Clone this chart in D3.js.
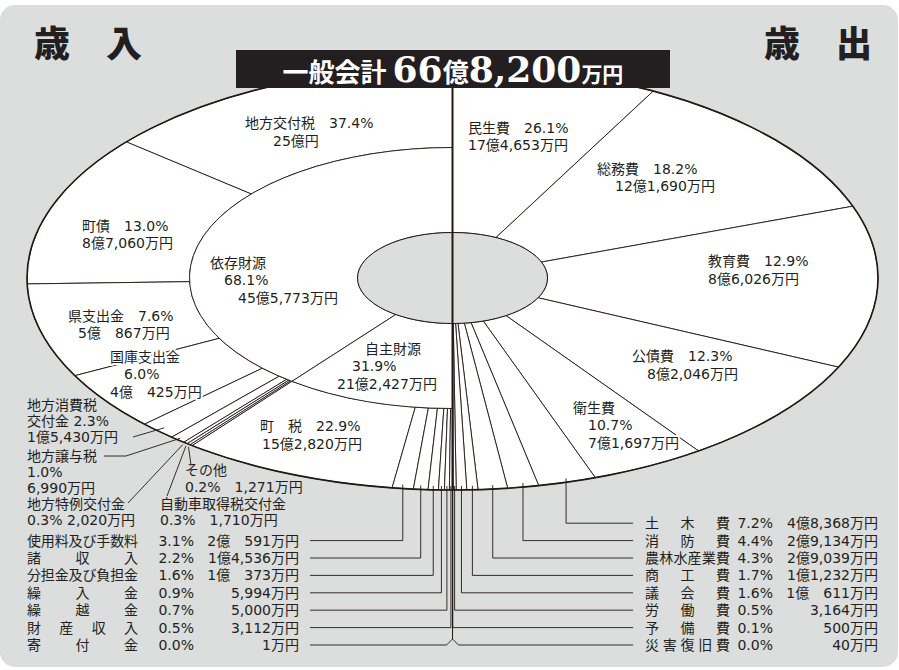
<!DOCTYPE html>
<html>
<head>
<meta charset="utf-8">
<script src="https://cdn.jsdelivr.net/npm/d3@7"></script>
<style>
  html, body { margin: 0; padding: 0; background: #fff; }
  svg text { font-family: "DejaVu Sans", "Noto Sans CJK JP", sans-serif; fill: #231f20; }
  .halo { paint-order: stroke; stroke: #fff; stroke-width: 4px; stroke-linejoin: round; }
</style>
</head>
<body>
<div id="chart"></div>
<script>
// 歳入 (万円)
const revNames = ["地方交付税", "町債", "県支出金", "国庫支出金", "地方消費税交付金", "地方譲与税",
  "地方特例交付金", "自動車取得税交付金", "その他", "町税", "使用料及び手数料", "諸収入",
  "分担金及び負担金", "繰入金", "繰越金", "財産収入", "寄付金"];
const revAmounts = [250000, 87060, 50867, 40425, 15430, 6990, 2020, 1710, 1271,
  152820, 20591, 14536, 10373, 5994, 5000, 3112, 1];
const revPcts = ["37.4", "13.0", "7.6", "6.0", "2.3", "1.0", "0.3", "0.3", "0.2",
  "22.9", "3.1", "2.2", "1.6", "0.9", "0.7", "0.5", "0.0"];
const revGroups = ["依存財源", "自主財源"];
const revGroupSizes = [9, 8];
const revGroupPcts = ["68.1", "31.9"];

// 歳出 (万円)
const expNames = ["民生費", "総務費", "教育費", "公債費", "衛生費", "土木費", "消防費",
  "農林水産業費", "商工費", "議会費", "労働費", "予備費", "災害復旧費"];
const expAmounts = [174653, 121690, 86026, 82046, 71697, 48368, 29134, 29039, 11232, 10611, 3164, 500, 40];
const expPcts = ["26.1", "18.2", "12.9", "12.3", "10.7", "7.2", "4.4", "4.3", "1.7", "1.6", "0.5", "0.1", "0.0"];

const W = 899, H = 670;
const cx = 452.5, cy = 278;
const outer = {rx: 425.5, ry: 212};
const ring = {rx: 263, ry: 130.5};
const hub = {rx: 95, ry: 45.5};
const ink = "#231815";
const fs = 14;

const fmt = d3.format(",");
function yen(v) {
  const oku = Math.floor(v / 10000), man = v % 10000;
  if (!oku) return fmt(man) + "万円";
  if (!man) return oku + "億円";
  return oku + "億" + (man < 1000 ? "\u3000" : "") + fmt(man) + "万円";
}

// screen angle a (0 = up), side -1 = left, +1 = right
function rAt(a, e) {
  const s = Math.sin(a), c = Math.cos(a);
  return 1 / Math.sqrt((s / e.rx) ** 2 + (c / e.ry) ** 2);
}
function pt(a, e, side, dr = 0) {
  const r = rAt(a, e) + dr;
  return [cx + side * r * Math.sin(a), cy - r * Math.cos(a)];
}
function band(a0, a1, e0, e1, side) {
  const sw = side > 0 ? 1 : 0;
  const p0 = pt(a0, e0, side), p1 = pt(a0, e1, side), p2 = pt(a1, e1, side), p3 = pt(a1, e0, side);
  return `M${p0}L${p1}A${e1.rx},${e1.ry} 0 0 ${sw} ${p2}L${p3}A${e0.rx},${e0.ry} 0 0 ${1 - sw} ${p0}Z`;
}

const pie = d3.pie().sort(null).startAngle(0).endAngle(Math.PI);
const revArcs = pie(revAmounts);
const expArcs = pie(expAmounts);
const groupSums = [d3.sum(revAmounts.slice(0, revGroupSizes[0])), d3.sum(revAmounts.slice(revGroupSizes[0]))];
const groupArcs = pie(groupSums);
const mid = d => (d.startAngle + d.endAngle) / 2;

const svg = d3.select("#chart").append("svg").attr("width", W).attr("height", H);

// 背景
svg.append("rect").attr("x", 0).attr("y", 5).attr("width", 898).attr("height", 662)
  .attr("rx", 15).attr("fill", "#dcdddd");

svg.append("ellipse").attr("cx", cx).attr("cy", cy).attr("rx", outer.rx).attr("ry", outer.ry)
  .attr("fill", "#fff");

const slices = svg.append("g").attr("fill", "#fff").attr("stroke", ink).attr("stroke-width", 0.9);
slices.selectAll(".rev").data(revArcs).join("path").attr("class", "rev")
  .attr("d", d => band(d.startAngle, d.endAngle, ring, outer, -1));
slices.selectAll(".grp").data(groupArcs).join("path").attr("class", "grp")
  .attr("d", d => band(d.startAngle, d.endAngle, hub, ring, -1));
slices.selectAll(".exp").data(expArcs).join("path").attr("class", "exp")
  .attr("d", d => band(d.startAngle, d.endAngle, hub, outer, 1));

svg.append("ellipse").attr("cx", cx).attr("cy", cy).attr("rx", outer.rx).attr("ry", outer.ry)
  .attr("fill", "none").attr("stroke", ink).attr("stroke-width", 1.6);
svg.append("ellipse").attr("cx", cx).attr("cy", cy).attr("rx", hub.rx).attr("ry", hub.ry)
  .attr("fill", "#dcdddd").attr("stroke", ink).attr("stroke-width", 1);
svg.append("line").attr("x1", cx).attr("x2", cx).attr("y1", 88).attr("y2", cy + outer.ry)
  .attr("stroke", ink).attr("stroke-width", 2);

// 見出し
svg.append("text").attr("x", 34).attr("y", 57).attr("font-size", 36).attr("font-weight", 900)
  .style("font-family", "'Noto Sans CJK JP'").text("歳\u3000入");
svg.append("text").attr("x", 764).attr("y", 57).attr("font-size", 36).attr("font-weight", 900)
  .style("font-family", "'Noto Sans CJK JP'").text("歳\u3000出");

const total = d3.sum(revAmounts);
svg.append("rect").attr("x", 236).attr("y", 50).attr("width", 434).attr("height", 38).attr("fill", "#231f20");
const tt = svg.append("text").attr("x", 453).attr("y", 82).attr("text-anchor", "middle")
  .attr("font-weight", 700).style("fill", "#fff");
const serif = "'DejaVu Serif', serif", jp = "'Noto Sans CJK JP'";
[["一般会計 ", 26, jp], [String(Math.floor(total / 10000)), 36, serif], ["億", 26, jp],
 [fmt(total % 10000), 36, serif], ["万円", 21, jp]].forEach(([t, s, f]) => {
  tt.append("tspan").attr("font-size", s).style("font-family", f).style("fill", "#fff").text(t);
});

// ラベル
const revItem = i => ({name: revNames[i], pct: revPcts[i] + "%", amt: yen(revAmounts[i])});
const expItem = i => ({name: expNames[i], pct: expPcts[i] + "%", amt: yen(expAmounts[i])});
const grpItem = i => ({name: revGroups[i], pct: revGroupPcts[i] + "%", amt: yen(groupSums[i])});
const spaced = s => Array.from(s).join("\u3000");

const innerLabels = [
  {d: revItem(0), x: 245, y: 128, lines: d => [[0, 0, d.name + "\u3000" + d.pct], [28, 18, d.amt]]},
  {d: revItem(1), x: 82, y: 231, lines: d => [[0, 0, d.name + "\u3000" + d.pct], [0, 17, d.amt]]},
  {d: revItem(2), x: 68, y: 321, lines: d => [[0, 0, d.name + "\u3000" + d.pct], [10, 17, d.amt]]},
  {d: revItem(3), x: 110, y: 362, lines: d => [[0, 0, d.name], [14, 17, d.pct], [0, 35, d.amt]]},
  {d: revItem(9), x: 260, y: 431, lines: d => [[0, 0, spaced(d.name) + "\u3000" + d.pct], [2, 18, d.amt]]},
  {d: grpItem(0), x: 210, y: 268, lines: d => [[0, 0, d.name], [14, 17, d.pct], [28, 35, d.amt]]},
  {d: grpItem(1), x: 337, y: 354, lines: d => [[28, 0, d.name], [15, 17, d.pct], [0, 35, d.amt]]},
  {d: expItem(0), x: 468, y: 133, lines: d => [[0, 0, d.name + "\u3000" + d.pct], [0, 17, d.amt]]},
  {d: expItem(1), x: 597, y: 174, lines: d => [[0, 0, d.name + "\u3000" + d.pct], [18, 17, d.amt]]},
  {d: expItem(2), x: 708, y: 266, lines: d => [[0, 0, d.name + "\u3000" + d.pct], [0, 18, d.amt]]},
  {d: expItem(3), x: 632, y: 361, lines: d => [[0, 0, d.name + "\u3000" + d.pct], [15, 18, d.amt]]},
  {d: expItem(4), x: 573, y: 413, lines: d => [[0, 0, d.name], [15, 17, d.pct], [15, 35, d.amt]]}
];
const lab = svg.append("g").attr("font-size", fs);
innerLabels.forEach(L => {
  L.lines(L.d).forEach(([dx, dy, t]) => {
    lab.append("text").attr("class", "halo").attr("x", L.x + dx).attr("y", L.y + dy).text(t);
  });
});

// 外側の小項目 (引出線つき)
const lead = svg.append("g").attr("fill", "none").attr("stroke", ink).attr("stroke-width", 0.9);
const outerLabels = [
  {i: 4, x: 27, y: 410, lines: d => [[0, 0, "地方消費税"], [0, 16, "交付金 " + d.pct], [0, 32, d.amt]],
   from: [[133, 437]], dr: -7},
  {i: 5, x: 27, y: 461, lines: d => [[0, 0, d.name], [0, 16, d.pct], [0, 32, d.amt]],
   from: [[104, 456], [126, 456]], dr: -3},
  {i: 6, x: 27, y: 509, lines: d => [[0, 0, d.name], [0, 16, d.pct + " " + d.amt]],
   from: [[128, 503]], dr: 3},
  {i: 7, x: 160, y: 509, lines: d => [[0, 0, d.name], [0, 16, d.pct + "\u3000" + d.amt]],
   from: [[167, 496]], dr: 3},
  {i: 8, x: 185, y: 475, lines: d => [[0, 0, d.name], [0, 17, d.pct + "\u3000" + d.amt]],
   from: [[191, 465]], dr: 3}
];
outerLabels.forEach(L => {
  L.lines(revItem(L.i)).forEach(([dx, dy, t]) => {
    lab.append("text").attr("x", L.x + dx).attr("y", L.y + dy).text(t);
  });
  const end = pt(mid(revArcs[L.i]), outer, -1, L.dr);
  lead.append("path").attr("d", d3.line()([...L.from, end]));
});

// 下部の一覧
function justify(g, str, x0, w, y) {
  const ch = Array.from(str);
  const step = ch.length > 1 ? (w - fs) / (ch.length - 1) : 0;
  const t = g.append("text").attr("y", y);
  ch.forEach((c, k) => t.append("tspan").attr("x", x0 + k * step).text(c));
}
const rowStep = 17.4, lastRow = 645;

function bottomList(arcs, idx, names, pcts, amounts, side, cfg) {
  const n = idx.length;
  // leader x from slice middles, kept apart near the centre
  const xs = idx.map(i => pt(mid(arcs[i]), outer, side)[0]);
  for (let k = n - 2; k >= 0; k--) {
    if (amounts[idx[k]] / total < 0.0005) continue;
    const lim = xs[k + 1] - side * cfg.gap;
    if (side < 0 ? xs[k] > lim : xs[k] < lim) xs[k] = lim;
  }
  idx.forEach((i, k) => {
    const ry = lastRow - (n - 1 - k) * rowStep;
    const x = xs[k];
    const y0 = pt(mid(arcs[i]), outer, side)[1] - 4;
    const pts = amounts[i] / total < 0.0005
      ? [[x, y0], [x, ry - 6], [x + side * 6, ry], [cfg.lineEnd, ry]]
      : [[x, y0], [x, ry], [cfg.lineEnd, ry]];
    lead.append("path").attr("d", d3.line()(pts));
    justify(lab, names[i], cfg.nameX, cfg.nameW, ry + 5);
    lab.append("text").attr("x", cfg.pctX).attr("y", ry + 5).attr("text-anchor", "end").text(pcts[i] + "%");
    lab.append("text").attr("x", cfg.amtX).attr("y", ry + 5).attr("text-anchor", "end").text(yen(amounts[i]));
  });
}
bottomList(revArcs, d3.range(10, 17), revNames, revPcts, revAmounts, -1,
  {gap: 2.5, lineEnd: 310, nameX: 27, nameW: 111, pctX: 194, amtX: 299});
bottomList(expArcs, d3.range(5, 13), expNames, expPcts, expAmounts, 1,
  {gap: 3, lineEnd: 633, nameX: 645, nameW: 85, pctX: 773, amtX: 878});
</script>
</body>
</html>
